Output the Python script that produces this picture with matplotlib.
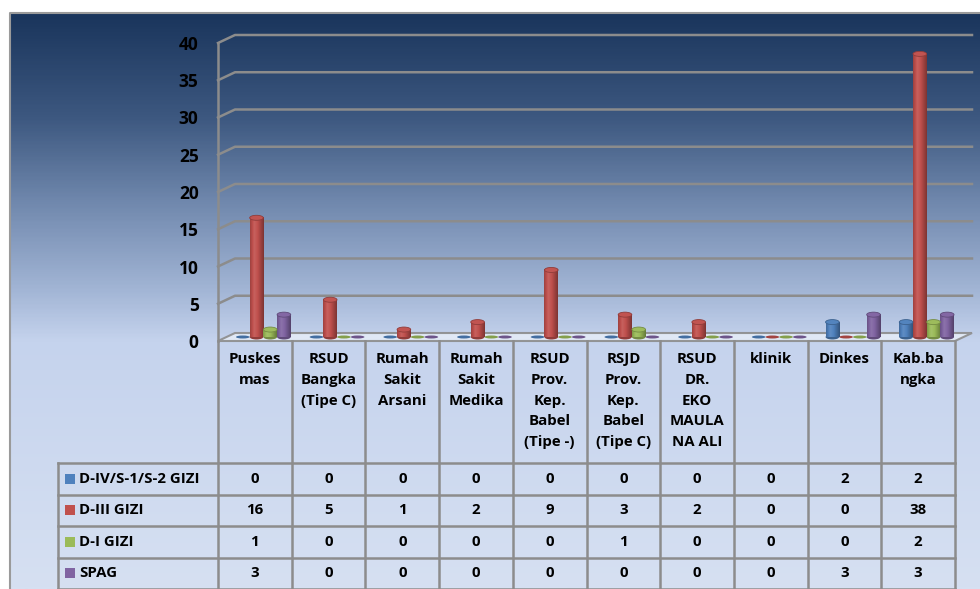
import numpy as np
import matplotlib
matplotlib.use("Agg")
import matplotlib.pyplot as plt
from matplotlib.colors import LinearSegmentedColormap, to_rgb
from matplotlib.patches import Ellipse, Polygon, Rectangle

plt.rcParams["font.family"] = ["Open Sans", "DejaVu Sans"]


# ============================================
# Data
# ============================================

CATEGORIES = [
    "Puskes\nmas",
    "RSUD\nBangka\n(Tipe C)",
    "Rumah\nSakit\nArsani",
    "Rumah\nSakit\nMedika",
    "RSUD\nProv.\nKep.\nBabel\n(Tipe -)",
    "RSJD\nProv.\nKep.\nBabel\n(Tipe C)",
    "RSUD\nDR.\nEKO\nMAULA\nNA ALI",
    "klinik",
    "Dinkes",
    "Kab.ba\nngka",
]

SERIES_NAMES = ["D-IV/S-1/S-2 GIZI", "D-III GIZI", "D-I GIZI", "SPAG"]
D4_S1_S2_GIZI = [0, 0, 0, 0, 0, 0, 0, 0, 2, 2]
D3_GIZI       = [16, 5, 1, 2, 9, 3, 2, 0, 0, 38]
D1_GIZI       = [1, 0, 0, 0, 0, 1, 0, 0, 0, 2]
SPAG          = [3, 0, 0, 0, 0, 0, 0, 0, 3, 3]

SERIES_COLORS = ["#4f81bd", "#c0504d", "#9bbb59", "#8064a2"]
Y_TICKS = [0, 5, 10, 15, 20, 25, 30, 35, 40]


# ============================================
# Layout (pixels on the 980 x 589 canvas)
# ============================================

W, H = 980, 589
FRONT_L, FRONT_R = 218, 955      # front edge of the floor
Y0_PX, YTOP_PX  = 341, 43        # value 0 and value 40 on the front edge
DEPTH_X, DEPTH_Y = 17, 8         # shift of the back wall
HEADER_BOTTOM = 463
ROW_H = 31.5
LEGEND_LEFT = 58
FRAME_L, FRAME_T = 10, 13

GRID_COLOR = "#8c8c8c"
N = len(CATEGORIES)
col_px = (FRONT_R - FRONT_L) / N
unit_px = (Y0_PX - YTOP_PX) / Y_TICKS[-1]
DX = DEPTH_X / col_px
DY = DEPTH_Y / unit_px

BAR_STEP = 0.186
BAR_W = 0.185
ELL_H = 5 / unit_px


def shade(color, f):
    c = np.array(to_rgb(color))
    if f >= 1:
        return np.clip(c + (1 - c) * (f - 1), 0, 1)
    return c * f


def draw_cylinder(ax, xc, v, color, base_y):
    if v > 0:
        t = np.linspace(0, 1, 60)
        prof = np.interp(t, [0, 0.3, 0.55, 1], [0.82, 1.1, 1.0, 0.65])
        img = np.array([[shade(color, f) for f in prof]])
        ax.imshow(img, extent=[xc - BAR_W / 2, xc + BAR_W / 2, base_y, base_y + v],
                  aspect="auto", interpolation="bilinear", zorder=3)
        ax.add_patch(Ellipse((xc, base_y), BAR_W, ELL_H, facecolor=shade(color, 0.75),
                             edgecolor="none", zorder=2.9))
        ax.add_patch(Ellipse((xc, base_y + v), BAR_W, ELL_H, facecolor=shade(color, 1.02),
                             edgecolor=shade(color, 0.75), lw=0.6, zorder=3.1))
    else:
        ax.add_patch(Ellipse((xc, base_y), BAR_W, ELL_H * 0.6, facecolor=shade(color, 0.85),
                             edgecolor="none", zorder=2.9))


# ============================================
# Figure and background
# ============================================

fig = plt.figure(figsize=(W / 100, H / 100), dpi=100)
fig.patch.set_facecolor("white")

bg = fig.add_axes([0, 0, 1, 1], zorder=-1)
bg.set_xlim(0, W)
bg.set_ylim(H, 0)
bg.axis("off")
bg_cmap = LinearSegmentedColormap.from_list(
    "bg",
    [(0.0, "#1a355c"), (0.18, "#3d5880"), (0.33, "#7189ae"),
     (0.48, "#a2b5d5"), (0.57, "#c5d3ed"), (1.0, "#d6e0f2")])
grad = np.linspace(0, 1, 400).reshape(-1, 1)
bg.imshow(grad, cmap=bg_cmap, extent=[FRAME_L, W, H, FRAME_T], aspect="auto")
bg.plot([FRAME_L, FRAME_L, W], [H, FRAME_T, FRAME_T], color="#9a9a9a", lw=1.5)


# ============================================
# Chart area
# ============================================

ax = fig.add_axes([FRONT_L / W, 1 - Y0_PX / H,
                   (FRONT_R - FRONT_L) / W, (Y0_PX - YTOP_PX) / H])
ax.patch.set_visible(False)
for s in ax.spines.values():
    s.set_visible(False)

x_left, x_right = -0.5, N - 0.5

# floor
ax.add_patch(Polygon([(x_left, 0), (x_right, 0), (x_right + DX, DY), (x_left + DX, DY)],
                     closed=True, facecolor="#e4ebf7", edgecolor=GRID_COLOR, lw=1.5,
                     alpha=0.9, zorder=1, clip_on=False))

# gridlines on side and back walls
for v in Y_TICKS[1:]:
    ax.plot([x_left, x_left + DX, x_right + DX], [v, v + DY, v + DY],
            color=GRID_COLOR, lw=1.8, zorder=1.5, clip_on=False)
ax.plot([x_left, x_left], [0, Y_TICKS[-1]], color=GRID_COLOR, lw=1.8, zorder=1.5, clip_on=False)

all_series = [D4_S1_S2_GIZI, D3_GIZI, D1_GIZI, SPAG]
for i in range(N):
    for j, (vals, col) in enumerate(zip(all_series, SERIES_COLORS)):
        xc = i + (j - 1.5) * BAR_STEP + DX / 2
        draw_cylinder(ax, xc, vals[i], col, DY / 2)

ax.set_xlim(x_left, x_right)
ax.set_ylim(0, Y_TICKS[-1])
ax.set_xticks([])
ax.set_yticks(Y_TICKS)
ax.set_yticklabels([str(v) for v in Y_TICKS], fontsize=12.5, fontweight="bold")
ax.tick_params(axis="y", length=0, pad=14)


# ============================================
# Data table
# ============================================

tb = fig.add_axes([FRONT_L / W, 0, (FRONT_R - FRONT_L) / W, (H - Y0_PX) / H])
tb.axis("off")
tb.set_xlim(x_left, x_right)
tb.set_ylim(H, Y0_PX)

leg_x = x_left + (LEGEND_LEFT - FRONT_L) / col_px
row_edges = [HEADER_BOTTOM + k * ROW_H for k in range(len(all_series) + 1)]

for k in range(N + 1):
    tb.plot([x_left + k, x_left + k], [Y0_PX, H], color=GRID_COLOR, lw=1.8, clip_on=False)
tb.plot([leg_x, leg_x], [HEADER_BOTTOM, H], color=GRID_COLOR, lw=1.8, clip_on=False)
for y in row_edges:
    tb.plot([leg_x, x_right], [y, y], color=GRID_COLOR, lw=1.8, clip_on=False)

for i, name in enumerate(CATEGORIES):
    tb.text(i, Y0_PX + 11, name, ha="center", va="top", fontsize=10.8,
            fontweight="bold", linespacing=1.62)

sq_w = 10 / col_px
for r, (name, vals, col) in enumerate(zip(SERIES_NAMES, all_series, SERIES_COLORS)):
    yc = row_edges[r] + ROW_H / 2
    tb.add_patch(Rectangle((leg_x + 7 / col_px, yc - 5), sq_w, 10, facecolor=col,
                           edgecolor="none", clip_on=False))
    tb.text(leg_x + 21 / col_px, yc, name, ha="left", va="center", fontsize=10.8,
            fontweight="bold", clip_on=False)
    for i, v in enumerate(vals):
        tb.text(i, yc, str(v), ha="center", va="center", fontsize=10.8, fontweight="bold")

fig.savefig("out.png", dpi=100)
